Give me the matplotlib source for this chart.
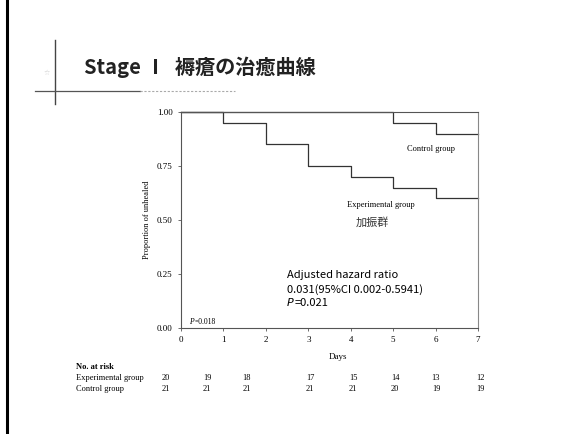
import matplotlib
matplotlib.use('Agg')
import matplotlib.pyplot as plt
from matplotlib.lines import Line2D

# Kaplan-Meier style data
days = [0, 1, 2, 3, 4, 5, 6, 7]
exp_unhealed = [1.00, 0.95, 0.85, 0.75, 0.70, 0.65, 0.60, 0.60]
ctl_unhealed = [1.00, 1.00, 1.00, 1.00, 1.00, 0.95, 0.90, 0.90]
y_ticks = [0.00, 0.25, 0.50, 0.75, 1.00]
risk_exp = [20, 19, 18, 17, 15, 14, 13, 12]
risk_ctl = [21, 21, 21, 21, 21, 20, 19, 19]

W, H = 581, 434
SERIF = 'Liberation Serif'
SANS = ['Noto Sans CJK JP', 'DejaVu Sans']


def px(x, y):
    # slide pixel coords -> figure fraction
    return x / W, 1 - y / H


fig = plt.figure(figsize=(W / 100, H / 100), dpi=100)
fig.patch.set_facecolor('white')

# slide decorations
fig.add_artist(Line2D([7 / W, 7 / W], [0, 1], color='black', lw=2.2))
fig.add_artist(Line2D([55 / W, 55 / W], [1 - 40 / H, 1 - 104 / H], color='#444444', lw=1.0))
fig.add_artist(Line2D([35 / W, 140 / W], [1 - 91 / H, 1 - 91 / H], color='#555555', lw=0.9))
fig.add_artist(Line2D([140 / W, 235 / W], [1 - 91 / H, 1 - 91 / H], color='#aaaaaa', lw=0.8, ls=(0, (2, 1.5))))
fig.text(*px(47, 73), '☆', fontsize=5, color='#c8c8c8', ha='center', va='center')

fig.text(*px(84, 74), 'Stage Ⅰ  褥瘡の治癒曲線', family=SANS, fontsize=14.5,
         fontweight='bold', color='#222222', ha='left', va='baseline')

# main plot
x0, x1, y0, y1 = 181, 478, 112, 328
ax = fig.add_axes([x0 / W, 1 - y1 / H, (x1 - x0) / W, (y1 - y0) / H])
ax.step(days, exp_unhealed, where='post', color='#333333', lw=0.9, clip_on=False)
ax.step(days, ctl_unhealed, where='post', color='#333333', lw=0.9, clip_on=False)
ax.set_xlim(0, 7)
ax.set_ylim(0, 1)
for s in ax.spines.values():
    s.set_color('#555555')
    s.set_linewidth(0.8)
ax.spines['right'].set_color('#888888')
ax.set_xticks(days)
ax.set_yticks(y_ticks)
ax.set_yticklabels([f'{v:.2f}' for v in y_ticks])
ax.tick_params(axis='both', direction='out', length=2, width=0.6, color='#555555',
               labelsize=6.5, pad=4)
for lab in ax.get_xticklabels() + ax.get_yticklabels():
    lab.set_fontfamily(SERIF)
ax.set_facecolor('white')

# in-plot annotations
ax.text(5.9, 0.83, 'Control group', family=SERIF, fontsize=6, ha='center', va='center')
ax.text(4.72, 0.57, 'Experimental group', family=SERIF, fontsize=6, ha='center', va='center')
ax.text(4.5, 0.49, '加振群', family=SANS, fontsize=8, ha='center', va='center', color='#333333')
ax.text(2.5, 0.245, 'Adjusted hazard ratio', family=SANS, fontsize=8, ha='left', va='center')
ax.text(2.5, 0.176, '0.031(95%CI 0.002-0.5941)', family=SANS, fontsize=8, ha='left', va='center')
ax.text(2.5, 0.115, 'P', family='DejaVu Sans', fontsize=8, style='italic', ha='left', va='center')
ax.annotate('=0.021', (2.5, 0.115), xytext=(5.4, 0), textcoords='offset points',
            family=SANS, fontsize=8, ha='left', va='center')
ax.text(0.2, 0.03, 'P', family=SERIF, fontsize=5.5, style='italic', ha='left', va='center')
ax.annotate('=0.018', (0.2, 0.03), xytext=(3.4, 0), textcoords='offset points',
            family=SERIF, fontsize=5.5, ha='left', va='center')

# axis labels
fig.text(*px(147, 220), 'Proportion of unhealed', family=SERIF, fontsize=6,
         rotation=90, ha='center', va='center')
fig.text(*px(338, 357), 'Days', family=SERIF, fontsize=6.5, ha='center', va='center')

# number at risk table
risk_x = [166, 207, 247, 310, 353, 395, 436, 480]
fig.text(*px(76, 367), 'No. at risk', family=SERIF, fontsize=6, fontweight='bold',
         ha='left', va='center')
fig.text(*px(76, 378), 'Experimental group', family=SERIF, fontsize=6, ha='left', va='center')
fig.text(*px(76, 389), 'Control group', family=SERIF, fontsize=6, ha='left', va='center')
for xp, e, c in zip(risk_x, risk_exp, risk_ctl):
    fig.text(*px(xp, 378), str(e), family=SERIF, fontsize=6, ha='center', va='center')
    fig.text(*px(xp, 389), str(c), family=SERIF, fontsize=6, ha='center', va='center')

fig.savefig('out.png', dpi=100, facecolor='white')
